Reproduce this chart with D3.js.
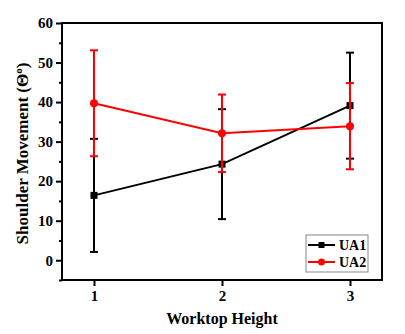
<!DOCTYPE html>
<html>
<head>
<meta charset="utf-8">
<script src="https://cdn.jsdelivr.net/npm/d3@7"></script>
<style>
  body { margin: 0; background: #fff; }
  text { font-family: "Liberation Serif", "Times New Roman", serif; font-weight: bold; }
</style>
</head>
<body>
<div id="chart"></div>
<script>
const heights = [1, 2, 3];
const ua1Mean = [16.4, 24.3, 39.1];
const ua1Err = [14.3, 13.9, 13.4];
const ua2Mean = [39.7, 32.1, 33.9];
const ua2Err = [13.4, 9.8, 10.9];
const yTicks = [0, 10, 20, 30, 40, 50, 60];

const width = 405, height = 334;
const margin = { top: 23, right: 23, bottom: 54, left: 62 };

const svg = d3.select("#chart").append("svg")
  .attr("width", width).attr("height", height);

const x = d3.scaleLinear().domain([0.75, 3.25]).range([margin.left, width - margin.right]);
const y = d3.scaleLinear().domain([-5, 60]).range([height - margin.bottom, margin.top]);

// frame
svg.append("rect")
  .attr("x", margin.left).attr("y", margin.top)
  .attr("width", width - margin.right - margin.left)
  .attr("height", height - margin.bottom - margin.top)
  .attr("fill", "none").attr("stroke", "#000").attr("stroke-width", 2);

// y axis
const yAxis = svg.append("g").attr("transform", `translate(${margin.left},0)`)
  .call(d3.axisLeft(y).tickValues(yTicks).tickSize(6).tickPadding(3));
yAxis.select(".domain").remove();
yAxis.selectAll(".tick line").attr("stroke-width", 2);
yAxis.selectAll("text").attr("font-size", "15px").attr("fill", "#000");
svg.append("g").attr("transform", `translate(${margin.left},0)`)
  .call(d3.axisLeft(y).tickValues(d3.range(-5, 60, 10)).tickSize(3).tickFormat(""))
  .call(g => g.select(".domain").remove())
  .selectAll(".tick line").attr("stroke-width", 2);

// x axis
const xAxis = svg.append("g").attr("transform", `translate(0,${height - margin.bottom})`)
  .call(d3.axisBottom(x).tickValues(heights).tickFormat(d3.format("d")).tickSize(6).tickPadding(4));
xAxis.select(".domain").remove();
xAxis.selectAll(".tick line").attr("stroke-width", 2);
xAxis.selectAll("text").attr("font-size", "15px").attr("fill", "#000");

// titles
svg.append("text")
  .attr("x", (margin.left + width - margin.right) / 2)
  .attr("y", 324)
  .attr("text-anchor", "middle")
  .attr("font-size", "16px")
  .text("Worktop Height");

const yt = svg.append("text")
  .attr("transform", `translate(28,${(margin.top + height - margin.bottom) / 2 + 2}) rotate(-90)`)
  .attr("text-anchor", "middle")
  .attr("font-size", "17px");
yt.append("tspan").text("Shoulder Movement (Θ");
yt.append("tspan").attr("dy", -6).attr("font-size", "11px").text("o");
yt.append("tspan").attr("dy", 6).text(")");

// series
const series = [
  { name: "UA1", mean: ua1Mean, err: ua1Err, color: "#000", marker: "square" },
  { name: "UA2", mean: ua2Mean, err: ua2Err, color: "#ff0000", marker: "circle" }
];

const line = d3.line().x(d => x(d[0])).y(d => y(d[1]));

series.forEach(s => {
  const g = svg.append("g");
  const pts = heights.map((h, i) => [h, s.mean[i], s.err[i]]);
  // error bars
  pts.forEach(p => {
    g.append("line")
      .attr("x1", x(p[0])).attr("x2", x(p[0]))
      .attr("y1", y(p[1] - p[2])).attr("y2", y(p[1] + p[2]))
      .attr("stroke", s.color).attr("stroke-width", 2);
    [p[1] - p[2], p[1] + p[2]].forEach(v => {
      g.append("line")
        .attr("x1", x(p[0]) - 4).attr("x2", x(p[0]) + 4)
        .attr("y1", y(v)).attr("y2", y(v))
        .attr("stroke", s.color).attr("stroke-width", 2);
    });
  });
  g.append("path").datum(pts).attr("d", line)
    .attr("fill", "none").attr("stroke", s.color).attr("stroke-width", 2);
  pts.forEach(p => {
    if (s.marker === "square") {
      g.append("rect").attr("x", x(p[0]) - 3.5).attr("y", y(p[1]) - 3.5)
        .attr("width", 7).attr("height", 7).attr("fill", s.color);
    } else {
      g.append("circle").attr("cx", x(p[0])).attr("cy", y(p[1])).attr("r", 4).attr("fill", s.color);
    }
  });
});

// legend
const lg = svg.append("g").attr("transform", "translate(306,235)");
lg.append("rect").attr("width", 62).attr("height", 37)
  .attr("fill", "#fff").attr("stroke", "#888").attr("stroke-width", 1);
series.forEach((s, i) => {
  const cy = 10 + i * 17;
  lg.append("line").attr("x1", 2).attr("x2", 29).attr("y1", cy).attr("y2", cy)
    .attr("stroke", s.color).attr("stroke-width", 2);
  if (s.marker === "square") {
    lg.append("rect").attr("x", 12.5).attr("y", cy - 3).attr("width", 6).attr("height", 6).attr("fill", s.color);
  } else {
    lg.append("circle").attr("cx", 15.5).attr("cy", cy).attr("r", 3.5).attr("fill", s.color);
  }
  lg.append("text").attr("x", 33).attr("y", cy + 5).attr("font-size", "14px").text(s.name);
});
</script>
</body>
</html>
